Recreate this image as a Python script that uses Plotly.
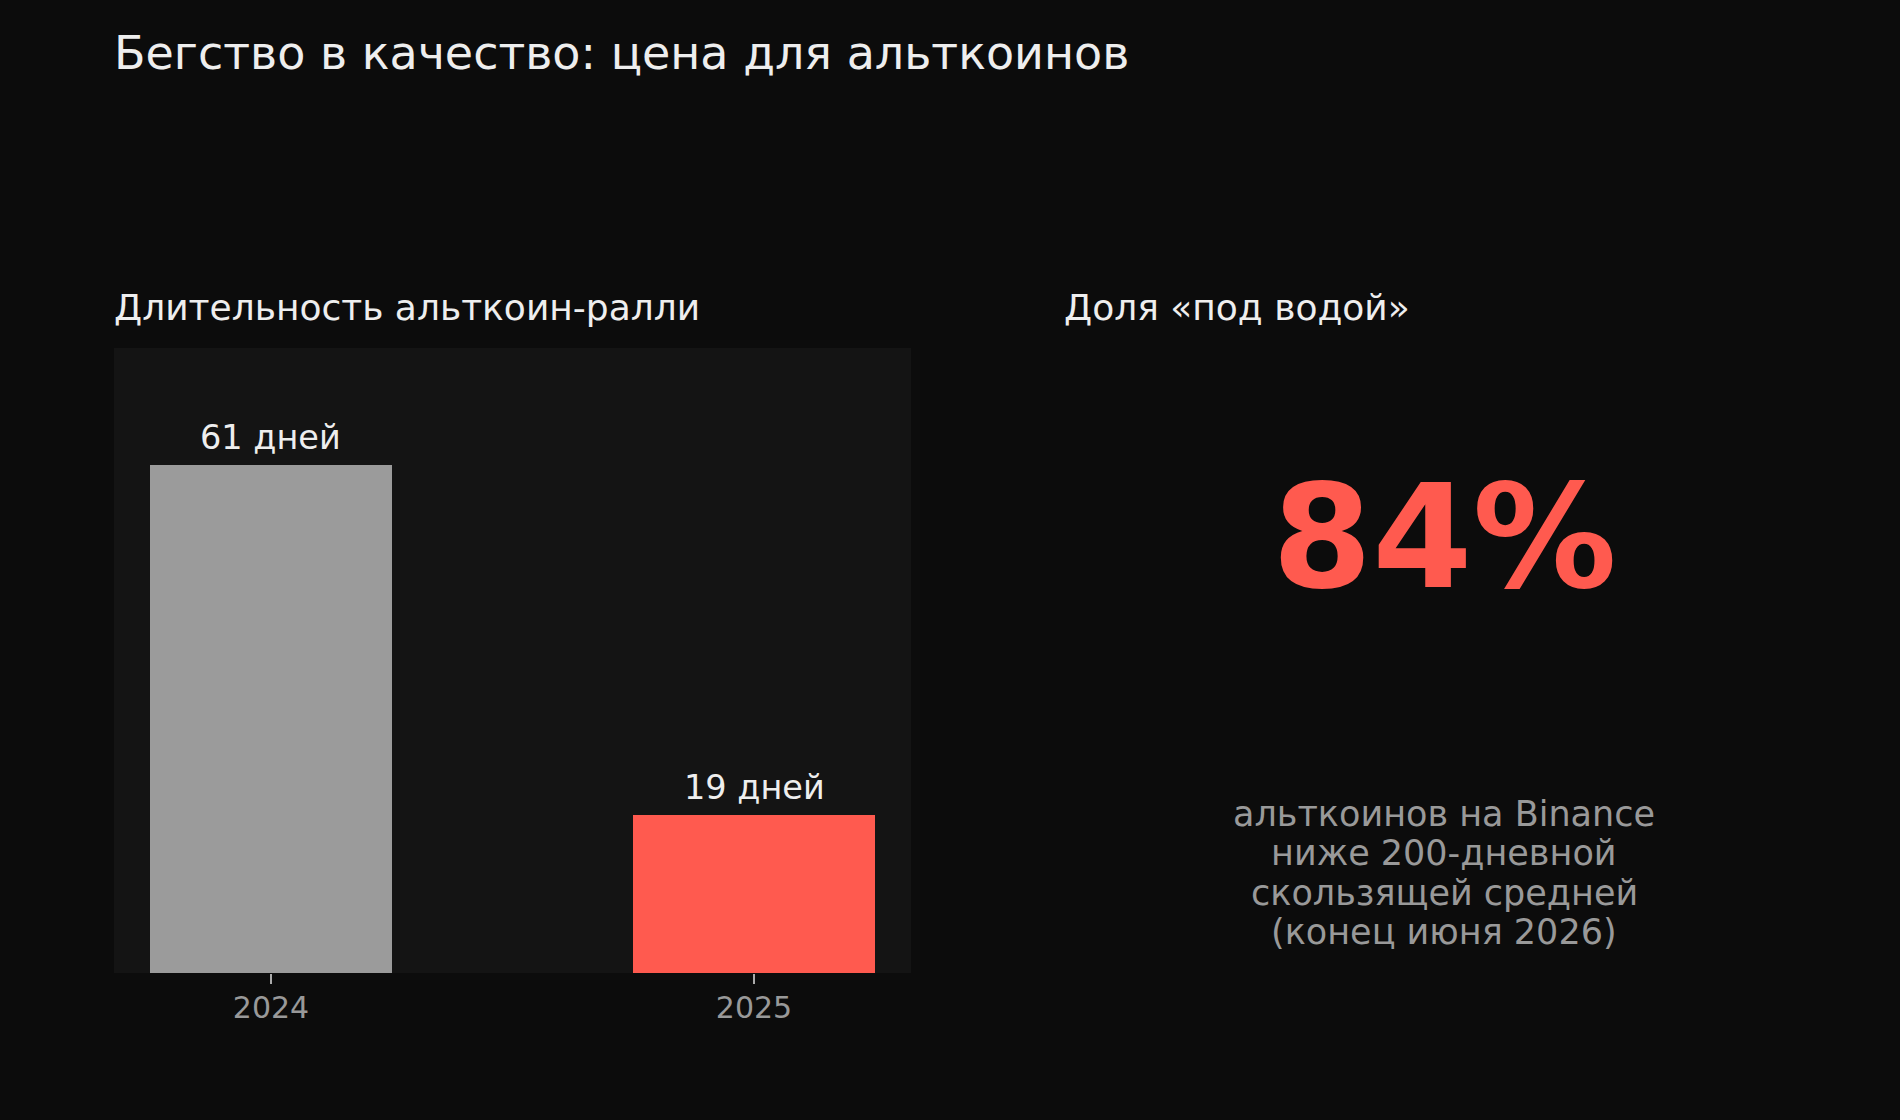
import plotly.graph_objects as go

# ---- data ----
categories = ["2024", "2025"]
rally_days = [61, 19]
bar_labels = ["61 дней", "19 дней"]
bar_colors = ["#9b9b9b", "#ff5a4f"]
underwater_share = "84%"
underwater_note = ["альткоинов на Binance", "ниже 200-дневной", "скользящей средней", "(конец июня 2026)"]
title_text = "Бегство в качество: цена для альткоинов"
left_subtitle = "Длительность альткоин-ралли"
right_subtitle = "Доля «под водой»"

W, H = 1900, 1120
FONT = "DejaVu Sans"

def px_x(x):
    return x / W

def px_y(y):
    return 1 - y / H

fig = go.Figure()
fig.add_trace(go.Bar(
    x=categories, y=rally_days, width=0.5,
    marker=dict(color=bar_colors, line=dict(width=0)),
    hoverinfo="skip", showlegend=False,
))

annotations = []
for i, (v, lab) in enumerate(zip(rally_days, bar_labels)):
    annotations.append(dict(x=i, y=v, xref="x", yref="y", text=lab, showarrow=False,
                            xanchor="center", yanchor="bottom", yshift=6,
                            font=dict(family=FONT, size=33.5, color="#eeeeee")))

annotations += [
    dict(x=px_x(112), y=px_y(53), xref="paper", yref="paper", text=title_text, showarrow=False,
         xanchor="left", yanchor="middle", font=dict(family=FONT, size=46, color="#eeeeee")),
    dict(x=px_x(112), y=px_y(307), xref="paper", yref="paper", text=left_subtitle, showarrow=False,
         xanchor="left", yanchor="middle", font=dict(family=FONT, size=36, color="#eeeeee")),
    dict(x=px_x(1062), y=px_y(307), xref="paper", yref="paper", text=right_subtitle, showarrow=False,
         xanchor="left", yanchor="middle", font=dict(family=FONT, size=36, color="#eeeeee")),
    dict(x=px_x(1444), y=px_y(537), xref="paper", yref="paper", text="<b>" + underwater_share + "</b>",
         showarrow=False, xanchor="center", yanchor="middle",
         font=dict(family=FONT, size=144, color="#ff5a4f")),
]
note_centers = [814, 853, 893, 932]
for line, cy in zip(underwater_note, note_centers):
    annotations.append(dict(x=px_x(1444), y=px_y(cy), xref="paper", yref="paper", text=line,
                            showarrow=False, xanchor="center", yanchor="middle",
                            font=dict(family=FONT, size=35, color="#999999")))

fig.update_layout(
    width=W, height=H, autosize=False,
    margin=dict(l=0, r=0, t=0, b=0),
    paper_bgcolor="#0c0c0c", plot_bgcolor="#141414",
    font=dict(family=FONT, color="#eeeeee"),
    bargap=0,
    xaxis=dict(domain=[px_x(114), px_x(911)], type="category", range=[-0.325, 1.325],
               showgrid=False, zeroline=False, showline=False,
               ticks="outside", ticklen=10, tickwidth=2, tickcolor="#aaaaaa",
               ticklabelstandoff=-2,
               tickfont=dict(family=FONT, size=30, color="#999999"), fixedrange=True),
    yaxis=dict(domain=[1 - 973 / H, 1 - 348 / H], range=[0, 75], visible=False,
               showgrid=False, zeroline=False, fixedrange=True),
    annotations=annotations,
)

fig.write_html("out.html", config={"displayModeBar": False})
